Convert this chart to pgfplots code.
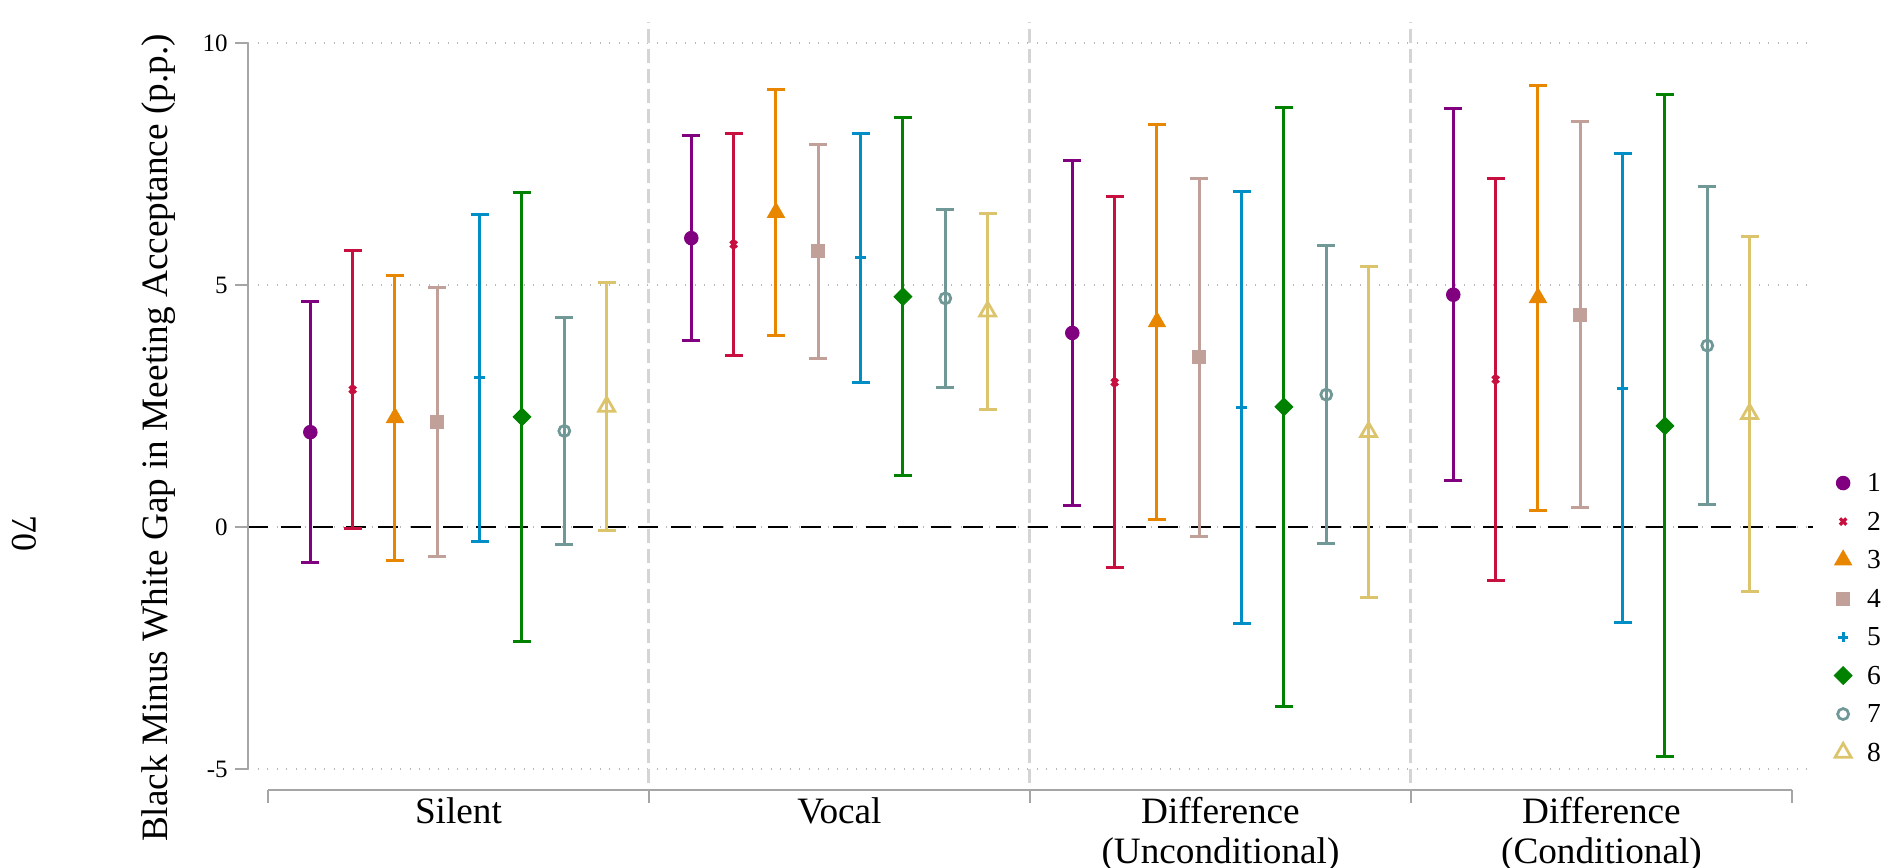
\documentclass[border=0pt]{standalone}
\usepackage{fontspec}
\setmainfont{Liberation Serif}
\usepackage{pgfplots}
\usepackage{pgfplotstable}
\pgfplotsset{compat=1.18}
\definecolor{c1}{RGB}{128,0,128}
\definecolor{c2}{RGB}{200,16,64}
\definecolor{c3}{RGB}{232,134,0}
\definecolor{c4}{RGB}{192,160,152}
\definecolor{c5}{RGB}{0,142,198}
\definecolor{c6}{RGB}{0,130,0}
\definecolor{c7}{RGB}{112,152,150}
\definecolor{c8}{RGB}{220,196,108}
\definecolor{spinec}{RGB}{165,165,165}
\definecolor{gridc}{RGB}{185,185,185}
\definecolor{sepc}{RGB}{212,212,212}

\pgfplotstableread{
x y e
1 1.96 2.70
10 5.97 2.125
19 4.01 3.57
28 4.80 3.845
}\sA
\pgfplotstableread{
x y e
2 2.84 2.865
11 5.84 2.30
20 2.99 3.835
29 3.05 4.145
}\sB
\pgfplotstableread{
x y e
3 2.26 2.945
12 6.50 2.545
21 4.24 4.075
30 4.74 4.39
}\sC
\pgfplotstableread{
x y e
4 2.18 2.78
13 5.695 2.215
22 3.51 3.70
31 4.39 3.98
}\sD
\pgfplotstableread{
x y e
5 3.08 3.38
14 5.56 2.58
23 2.475 4.465
32 2.865 4.845
}\sE
\pgfplotstableread{
x y e
6 2.275 4.635
15 4.76 3.70
24 2.485 6.185
33 2.09 6.84
}\sF
\pgfplotstableread{
x y e
7 1.985 2.345
16 4.725 1.835
25 2.735 3.075
34 3.75 3.29
}\sG
\pgfplotstableread{
x y e
8 2.49 2.57
17 4.455 2.025
26 1.965 3.415
35 2.34 3.67
}\sH

\pgfplotsset{
  ebar/.style={only marks,
    error bars/y dir=both, error bars/y explicit,
    error bars/error bar style={line width=1.2pt, solid},
    error bars/error mark options={rotate=90, mark size=3.6pt, line width=1.2pt, solid}},
}

\begin{document}
\begin{tikzpicture}
\begin{axis}[
  at={(0pt,0pt)}, anchor=south west,
  scale only axis, width=626pt, height=307.2pt,
  xmin=-0.47, xmax=36.5, ymin=-5.44, ymax=10.43,
  axis x line*=bottom, axis y line*=left,
  axis line style={draw=none},
  clip=false,
  ytick={-5,0,5,10},
  yticklabels={-5,0,5,10},
  ymajorgrids,
  grid style={gridc, line width=0.6pt, dash pattern=on 0.5pt off 3.3pt},
  tick align=outside, major tick length=5.2pt,
  ytick style={spinec, line width=0.8pt},
  yticklabel style={font=\fontsize{10}{12}\selectfont, inner sep=0pt, xshift=-2.8pt},
  xtick={4.5,13.5,22.5,31.5},
  xticklabels={Silent,Vocal,{Difference\\(Unconditional)},{Difference\\(Conditional)}},
  xtick style={draw=none},
  xticklabel style={font=\fontsize{14.9}{16}\selectfont, align=center, anchor=north, inner sep=0pt, yshift=2.6pt},
  ylabel={Black Minus White Gap in Meeting Acceptance (p.p.)},
  ylabel style={font=\fontsize{14.9}{16}\selectfont, at={(axis description cs:-0.0575,0.4587)}, anchor=center, inner sep=0pt},
  legend style={draw=none, fill=none, at={(1.0128,0.4251)}, anchor=north west,
    inner sep=0pt, outer sep=0pt, row sep=0pt,
    font=\fontsize{11}{11}\selectfont,
    nodes={inner sep=0pt, text height=11.2pt, text depth=4.2pt}},
  legend cell align=left,
  legend image code/.code={\path[draw=none] (0pt,0pt) -- (13.6pt,0pt); \draw[#1] plot coordinates {(4pt,0pt)};},
]
% separators
\draw[sepc, line width=1.2pt, dash pattern=on 5.5pt off 2.5pt] (axis cs:9,-5.29) -- (axis cs:9,10.43);
\draw[sepc, line width=1.2pt, dash pattern=on 5.5pt off 2.5pt] (axis cs:18,-5.29) -- (axis cs:18,10.43);
\draw[sepc, line width=1.2pt, dash pattern=on 5.5pt off 2.5pt] (axis cs:27,-5.29) -- (axis cs:27,10.43);
% zero line
\draw[black, line width=1pt, dash pattern=on 8pt off 5pt] (axis cs:-0.47,0) -- (axis cs:36.5,0);
% y spine
\draw[spinec, line width=0.8pt] (axis cs:-0.47,-5) -- (axis cs:-0.47,10);
% x bracket
\draw[spinec, line width=0.8pt] (axis cs:0,-5.44) -- (axis cs:36,-5.44);
\draw[spinec, line width=0.8pt] (axis cs:0,-5.44) -- ([yshift=-5.2pt]axis cs:0,-5.44);
\draw[spinec, line width=0.8pt] (axis cs:9,-5.44) -- ([yshift=-5.2pt]axis cs:9,-5.44);
\draw[spinec, line width=0.8pt] (axis cs:18,-5.44) -- ([yshift=-5.2pt]axis cs:18,-5.44);
\draw[spinec, line width=0.8pt] (axis cs:27,-5.44) -- ([yshift=-5.2pt]axis cs:27,-5.44);
\draw[spinec, line width=0.8pt] (axis cs:36,-5.44) -- ([yshift=-5.2pt]axis cs:36,-5.44);

\addplot[ebar, color=c1, mark=*, mark size=2.7pt, mark options={solid, fill=c1}] table[x=x, y=y, y error=e] {\sA};
\addplot[ebar, color=c2, mark=x, mark size=1.8pt, mark options={solid, line width=1.3pt}] table[x=x, y=y, y error=e] {\sB};
\addplot[ebar, color=c3, mark=triangle*, mark size=3.9pt, mark options={solid, fill=c3}] table[x=x, y=y, y error=e] {\sC};
\addplot[ebar, color=c4, mark=square*, mark size=2.6pt, mark options={solid, fill=c4}] table[x=x, y=y, y error=e] {\sD};
\addplot[ebar, color=c5, mark=+, mark size=2.1pt, mark options={solid, line width=1.2pt}] table[x=x, y=y, y error=e] {\sE};
\addplot[ebar, color=c6, mark=square*, mark size=2.5pt, mark options={solid, fill=c6, rotate=45}] table[x=x, y=y, y error=e] {\sF};
\addplot[ebar, color=c7, mark=o, mark size=2.2pt, mark options={solid, fill=white, line width=1.1pt}] table[x=x, y=y, y error=e] {\sG};
\addplot[ebar, color=c8, mark=triangle, mark size=3.7pt, mark options={solid, fill=white, line width=1.1pt}] table[x=x, y=y, y error=e] {\sH};
\legend{1,2,3,4,5,6,7,8}
\end{axis}
\node[rotate=-90, font=\fontsize{14.4}{16}\selectfont, inner sep=0pt] at (-89.6pt,102.9pt) {70};
\pgfresetboundingbox
\path[use as bounding box] (-99.24pt,-31.08pt) rectangle (659.16pt,316.12pt);
\end{tikzpicture}
\end{document}
